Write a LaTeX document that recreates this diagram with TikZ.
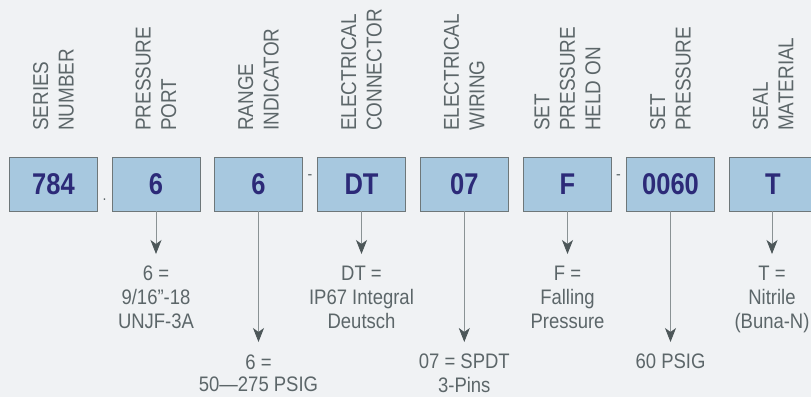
\documentclass[tikz,border=0pt]{standalone}
\usepackage{fontspec}
\setmainfont{Liberation Sans}
\newfontfamily\hdfont[FakeStretch=0.88]{Liberation Sans}
\newfontfamily\bxfont[FakeStretch=0.85]{Liberation Sans}
\usetikzlibrary{arrows.meta}
\definecolor{bg}{HTML}{F0F2F4}
\definecolor{boxfill}{HTML}{A7C8DF}
\definecolor{boxline}{HTML}{6E7779}
\definecolor{navy}{HTML}{2C2A78}
\definecolor{gtext}{HTML}{5C6669}
\definecolor{aline}{HTML}{8A9294}
\definecolor{ahead}{HTML}{4D5759}
\tikzset{
  codebox/.style={draw=boxline, fill=boxfill, line width=0.8pt, minimum width=88pt, minimum height=54pt, inner sep=0pt, text=navy, font=\bxfont\bfseries\fontsize{30}{30}\selectfont},
  hdr/.style={rotate=90, anchor=west, align=left, inner sep=0pt, text=gtext, font=\hdfont\fontsize{21.5}{25.5}\selectfont},
  desc/.style={anchor=north, align=center, inner sep=0pt, text=gtext, font=\hdfont\fontsize{21}{24}\selectfont},
  sepmark/.style={inner sep=0pt, text=gtext, font=\hdfont\fontsize{16}{16}\selectfont},
  arr/.style={draw=aline, line width=0.8pt, -{Stealth[length=14pt,width=11pt,inset=4pt,color=ahead]}}
}
\begin{document}
\begin{tikzpicture}[x=1pt,y=-1pt]
\clip (0,0) rectangle (811,397);
\fill[bg] (0,0) rectangle (811,397);
% headers
\node[hdr] (h1) at (53.5,131) {SERIES\\NUMBER};
\node[hdr] (h2) at (156,131) {PRESSURE\\PORT};
\node[hdr] (h3) at (258.5,131) {RANGE\\INDICATOR};
\node[hdr] (h4) at (361.5,131) {ELECTRICAL\\CONNECTOR};
\node[hdr] (h5) at (464.3,131) {ELECTRICAL\\WIRING};
\node[hdr] (h6) at (567.5,131) {SET\\PRESSURE\\HELD ON};
\node[hdr] (h7) at (670.5,131) {SET\\PRESSURE};
\node[hdr] (h8) at (773,131) {SEAL\\MATERIAL};
% boxes
\node[codebox] (b1) at (53.5,184) {784};
\node[codebox] (b2) at (156,184) {6};
\node[codebox] (b3) at (258.5,184) {6};
\node[codebox] (b4) at (361.5,184) {DT};
\node[codebox] (b5) at (464.3,184) {07};
\node[codebox] (b6) at (567.5,184) {F};
\node[codebox] (b7) at (670.5,184) {0060};
\node[codebox] (b8) at (773,184) {T};
% separators
\node[sepmark] (s1) at (104.5,200) {.};
\node[sepmark] (s2) at (310,177) {-};
\node[sepmark] (s3) at (618.5,177) {-};
% arrow ends
\coordinate (a2) at (156,254);
\coordinate (a3) at (258.5,342);
\coordinate (a4) at (361.5,254);
\coordinate (a5) at (464.3,342);
\coordinate (a6) at (567.5,254);
\coordinate (a7) at (670.5,342);
\coordinate (a8) at (772,254);
\draw[arr] (b2.south) -- (a2);
\draw[arr] (b3.south) -- (a3);
\draw[arr] (b4.south) -- (a4);
\draw[arr] (b5.south) -- (a5);
\draw[arr] (b6.south) -- (a6);
\draw[arr] (b7.south) -- (a7);
\draw[arr] (b8.south -| a8) -- (a8);
% descriptions
\node[desc] (d2) at (156,265.5) {6 =\\9/16”-18\\UNJF-3A};
\node[desc, font=\hdfont\fontsize{21}{22.5}\selectfont] (d3) at (258.5,354.5) {6 =\\50—275 PSIG};
\node[desc] (d4) at (361.5,265.5) {DT =\\IP67 Integral\\Deutsch};
\node[desc] (d5) at (464.3,353.5) {07 = SPDT\\3-Pins};
\node[desc] (d6) at (567.5,265.5) {F =\\Falling\\Pressure};
\node[desc] (d7) at (670.5,354) {60 PSIG};
\node[desc] (d8) at (772,265.5) {T =\\Nitrile\\(Buna-N)};
\end{tikzpicture}
\end{document}
